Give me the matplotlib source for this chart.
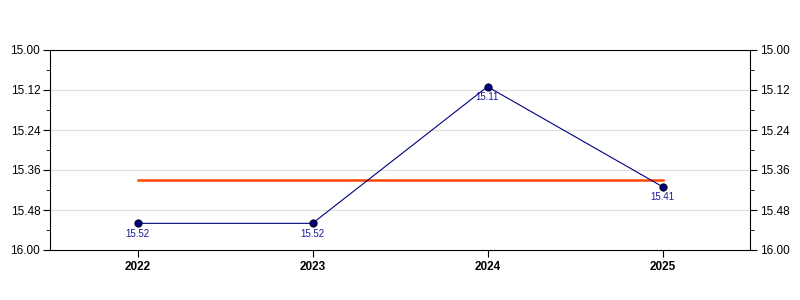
import matplotlib
matplotlib.use("Agg")
import matplotlib.pyplot as plt
import numpy as np
from matplotlib.ticker import FixedLocator, MultipleLocator

plt.rcParams["font.family"] = ["Liberation Sans", "DejaVu Sans"]

years = ["2022", "2023", "2024", "2025"]
values = [15.52, 15.52, 15.11, 15.41]
y_ticks = [15.00, 15.12, 15.24, 15.36, 15.48, 15.60]
y_tick_labels = ["15.00", "15.12", "15.24", "15.36", "15.48", "16.00"]

x = np.arange(len(years))
mean_value = float(np.mean(values))

fig = plt.figure(figsize=(8, 3), dpi=100)
ax = fig.add_axes([50 / 800, 50 / 300, 700 / 800, 200 / 300])

ax.set_xlim(-0.5, len(years) - 0.5)
ax.set_ylim(15.60, 15.00)

for y in y_ticks[1:-1]:
    ax.axhline(y, color="#dddddd", linewidth=0.8, zorder=0)

ax.plot(x, values, color="#000080", linewidth=0.8, zorder=3)
ax.plot([x[0], x[-1]], [mean_value, mean_value], color="#ff4500", linewidth=1.8, zorder=2)
ax.scatter(x, values, s=28, color="#000080", edgecolors="black", linewidths=0.6, zorder=4)

for xi, v in zip(x, values):
    ax.annotate(f"{v:.2f}", (xi, v), xytext=(0, -4), textcoords="offset points",
                ha="center", va="top", fontsize=7, color="#1a1a99", zorder=5)

ax.set_xticks(x, years, fontsize=8.5, fontweight="bold")
ax.yaxis.set_major_locator(FixedLocator(y_ticks))
ax.set_yticklabels(y_tick_labels, fontsize=8.5)
ax.yaxis.set_minor_locator(MultipleLocator(0.06))
ax.tick_params(axis="y", which="both", direction="out", left=True, right=True, labelright=True, pad=2)
ax.tick_params(axis="y", which="major", length=5)
ax.tick_params(axis="y", which="minor", length=3)
ax.tick_params(axis="x", direction="out", length=5, pad=3)

for spine in ax.spines.values():
    spine.set_linewidth(0.8)

fig.savefig("out.png", dpi=100)
